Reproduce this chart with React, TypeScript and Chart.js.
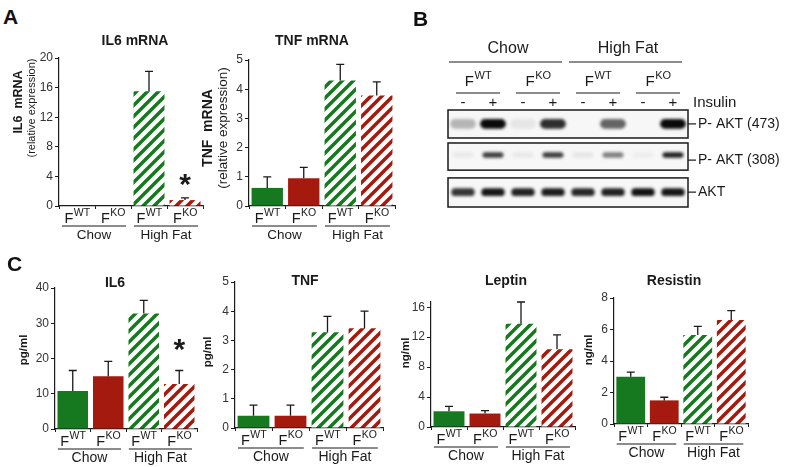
import React, { useEffect, useRef } from 'react';
import { Chart, registerables } from 'chart.js';
Chart.register(...registerables);

const FONT = '"Liberation Sans", Arial, Helvetica, sans-serif';
const GREEN = '#17791f';
const RED = '#a51a0e';
const INK = '#1a1a1a';

// ---------- data ----------
const categories = ['Chow F-WT', 'Chow F-KO', 'High Fat F-WT', 'High Fat F-KO'];
const genotypeSup = ['WT', 'KO', 'WT', 'KO'];
const dietGroups = ['Chow', 'High Fat'];

const il6mRNA = [0, 0, 15.5, 0.8];
const il6mRNAErr = [0, 0, 2.7, 0.3];
const tnfmRNA = [0.62, 0.95, 4.3, 3.78];
const tnfmRNAErr = [0.38, 0.37, 0.55, 0.47];
const il6Serum = [10.8, 15.0, 32.8, 12.8];
const il6SerumErr = [5.8, 4.2, 3.7, 3.8];
const tnfSerum = [0.42, 0.42, 3.28, 3.42];
const tnfSerumErr = [0.36, 0.36, 0.54, 0.58];
const leptinSerum = [2.1, 1.8, 13.8, 10.4];
const leptinSerumErr = [0.65, 0.4, 2.9, 1.9];
const resistinSerum = [3.0, 1.5, 5.65, 6.6];
const resistinSerumErr = [0.3, 0.2, 0.55, 0.6];

const blotInsulin = ['-', '+', '-', '+', '-', '+', '-', '+'];
const blotGenotypes = ['WT', 'KO', 'WT', 'KO'];
const blotDiets = ['Chow', 'High Fat'];
const blotRows = ['P- AKT (473)', 'P- AKT (308)', 'AKT'];
const pAkt473 = [0.28, 1.0, 0.07, 0.85, 0.0, 0.62, 0.0, 1.0];
const pAkt308 = [0.06, 0.78, 0.06, 0.78, 0.07, 0.5, 0.04, 0.9];
const aktTotal = [0.82, 0.95, 0.9, 0.92, 0.88, 0.9, 0.97, 0.95];

// ---------- layout ----------
type Spec = {
  title: string; titleX: number; titleY: number;
  yLabel: string[]; yLabelX: number[]; yLabelY: number[]; yLabelFont: string[];
  values: number[]; errors: number[]; max: number; step: number;
  star: number; starLift: number; groupFont: number;
  canvas: [number, number, number, number];
  plot: [number, number, number, number];
};

const specs: Spec[] = [
  {
    title: 'IL6 mRNA', titleX: 135, titleY: 45,
    yLabel: ['IL6  mRNA', '(relative expression)'], yLabelX: [19, 32], yLabelY: [102, 108],
    yLabelFont: ['bold 12.5px', '11px'],
    values: il6mRNA, errors: il6mRNAErr, max: 20, step: 4, star: 3, starLift: 21, groupFont: 13.5,
    canvas: [0, 30, 215, 215], plot: [59, 203, 58, 206],
  },
  {
    title: 'TNF mRNA', titleX: 312, titleY: 45,
    yLabel: ['TNF  mRNA', '(relative expression)'], yLabelX: [208, 223], yLabelY: [128, 128],
    yLabelFont: ['bold 14px', '13.5px'],
    values: tnfmRNA, errors: tnfmRNAErr, max: 5, step: 1, star: -1, starLift: 0, groupFont: 13.5,
    canvas: [195, 30, 215, 215], plot: [249, 395, 60, 206],
  },
  {
    title: 'IL6', titleX: 115, titleY: 287,
    yLabel: ['pg/ml'], yLabelX: [24], yLabelY: [350], yLabelFont: ['bold 11.5px'],
    values: il6Serum, errors: il6SerumErr, max: 40, step: 10, star: 3, starLift: 29, groupFont: 14,
    canvas: [0, 262, 205, 205], plot: [55, 197, 288, 429],
  },
  {
    title: 'TNF', titleX: 305, titleY: 285,
    yLabel: ['pg/ml'], yLabelX: [208], yLabelY: [352], yLabelFont: ['bold 11.5px'],
    values: tnfSerum, errors: tnfSerumErr, max: 5, step: 1, star: -1, starLift: 0, groupFont: 14,
    canvas: [198, 262, 195, 205], plot: [235, 383, 282, 428],
  },
  {
    title: 'Leptin', titleX: 506, titleY: 285,
    yLabel: ['ng/ml'], yLabelX: [406], yLabelY: [353], yLabelFont: ['bold 11.5px'],
    values: leptinSerum, errors: leptinSerumErr, max: 16.7, step: 4, star: -1, starLift: 0, groupFont: 14,
    canvas: [395, 262, 190, 205], plot: [431, 575, 302, 427],
  },
  {
    title: 'Resistin', titleX: 674, titleY: 285,
    yLabel: ['ng/ml'], yLabelX: [589], yLabelY: [350], yLabelFont: ['bold 11.5px'],
    values: resistinSerum, errors: resistinSerumErr, max: 8, step: 2, star: -1, starLift: 0, groupFont: 14,
    canvas: [580, 262, 220, 205], plot: [614, 748, 298, 424],
  },
];

const YW = 30;

function makeHatch(color: string) {
  const s = 11;
  const c = document.createElement('canvas');
  c.width = s; c.height = s;
  const g = c.getContext('2d')!;
  g.fillStyle = '#ffffff';
  g.fillRect(0, 0, s, s);
  g.strokeStyle = color;
  g.lineWidth = 3.5;
  g.beginPath();
  for (const o of [-s, 0, s]) {
    g.moveTo(o - 1, s + 1);
    g.lineTo(o + s + 1, -1);
  }
  g.stroke();
  return g.createPattern(c, 'repeat')!;
}

function drawFLabel(ctx: CanvasRenderingContext2D, cx: number, base: number, sup: string, fSize: number, sSize: number, supRise: number) {
  ctx.font = `${fSize}px ${FONT}`;
  const wF = ctx.measureText('F').width;
  ctx.font = `${sSize}px ${FONT}`;
  const wS = ctx.measureText(sup).width;
  const x0 = cx - (wF + wS) / 2;
  ctx.textAlign = 'left';
  ctx.textBaseline = 'alphabetic';
  ctx.font = `${fSize}px ${FONT}`;
  ctx.fillText('F', x0, base);
  ctx.font = `${sSize}px ${FONT}`;
  ctx.fillText(sup, x0 + wF + 0.5, base - supRise);
}

function makeBarPlugin(spec: Spec) {
  const ox = spec.canvas[0];
  const oy = spec.canvas[1];
  return {
    id: 'barDecor',
    afterDraw(chart: any) {
      const ctx: CanvasRenderingContext2D = chart.ctx;
      const xs = chart.scales.x;
      const ys = chart.scales.y;
      const meta = chart.getDatasetMeta(0);
      const zero = ys.getPixelForValue(0);
      const cw = xs.getPixelForValue(1) - xs.getPixelForValue(0);
      ctx.save();
      ctx.fillStyle = INK;
      ctx.strokeStyle = INK;
      // error bars
      ctx.lineWidth = 1.3;
      spec.values.forEach((v, i) => {
        const e = spec.errors[i];
        if (!e) return;
        const x = meta.data[i].x;
        const y0 = ys.getPixelForValue(v);
        const y1 = ys.getPixelForValue(v + e);
        ctx.beginPath();
        ctx.moveTo(x, y0);
        ctx.lineTo(x, y1);
        ctx.moveTo(x - 4, y1);
        ctx.lineTo(x + 4, y1);
        ctx.stroke();
      });
      // star
      if (spec.star >= 0) {
        const i = spec.star;
        const x = meta.data[i].x;
        const yc = ys.getPixelForValue(spec.values[i] + spec.errors[i]) - spec.starLift;
        ctx.font = `bold 30px ${FONT}`;
        ctx.textAlign = 'center';
        ctx.textBaseline = 'alphabetic';
        ctx.fillText('*', x, yc + 0.57 * 30);
      }
      // x category labels
      categories.forEach((_, i) => {
        const cx = xs.getPixelForValue(i);
        drawFLabel(ctx, cx, zero + 17, genotypeSup[i], 14.5, 10.5, 7);
      });
      // diet groups
      ctx.lineWidth = 1.2;
      dietGroups.forEach((g, k) => {
        const a = xs.getPixelForValue(2 * k) - 0.42 * cw;
        const b = xs.getPixelForValue(2 * k + 1) + 0.36 * cw;
        ctx.beginPath();
        ctx.moveTo(a, zero + 20);
        ctx.lineTo(b, zero + 20);
        ctx.stroke();
        ctx.font = `${spec.groupFont}px ${FONT}`;
        ctx.textAlign = 'center';
        ctx.textBaseline = 'alphabetic';
        ctx.fillText(g, (a + b) / 2, zero + 33);
      });
      // title
      ctx.font = `bold 14px ${FONT}`;
      ctx.textAlign = 'center';
      ctx.textBaseline = 'alphabetic';
      ctx.fillText(spec.title, spec.titleX - ox, spec.titleY - oy);
      // y labels
      spec.yLabel.forEach((t, k) => {
        ctx.save();
        ctx.translate(spec.yLabelX[k] - ox, spec.yLabelY[k] - oy);
        ctx.rotate(-Math.PI / 2);
        ctx.font = `${spec.yLabelFont[k]} ${FONT}`;
        ctx.textAlign = 'center';
        ctx.textBaseline = 'middle';
        ctx.fillText(t, 0, 0);
        ctx.restore();
      });
      ctx.restore();
    },
  };
}

function BarPanel({ spec }: { spec: Spec }) {
  const ref = useRef<HTMLCanvasElement>(null);
  useEffect(() => {
    const canvas = ref.current!;
    const [cx, cy, cw, ch] = spec.canvas;
    const [l, r, t, b] = spec.plot;
    const pad = { left: l - cx - YW, right: cx + cw - r, top: t - cy, bottom: cy + ch - b };
    const fills = [GREEN, RED, makeHatch(GREEN), makeHatch(RED)];
    const chart = new Chart(canvas, {
      type: 'bar',
      data: {
        labels: categories,
        datasets: [{
          data: spec.values,
          backgroundColor: fills as any,
          borderWidth: 0,
          barPercentage: 0.86,
          categoryPercentage: 1,
        }],
      },
      options: {
        responsive: false,
        animation: false,
        devicePixelRatio: 1,
        layout: { padding: pad },
        events: [],
        plugins: { legend: { display: false }, tooltip: { enabled: false }, title: { display: false } },
        scales: {
          x: {
            type: 'category',
            offset: true,
            grid: { display: true, drawOnChartArea: false, drawTicks: true, tickLength: 3, color: INK, offset: true },
            border: { display: true, color: INK, width: 1.2 },
            ticks: { display: false },
            afterFit: (s: any) => { s.height = 0; },
          },
          y: {
            min: 0,
            max: spec.max,
            ticks: {
              stepSize: spec.step,
              includeBounds: false,
              padding: 2,
              color: '#333',
              font: { family: FONT, size: 12 },
            },
            grid: { display: true, drawOnChartArea: false, drawTicks: true, tickLength: 4, color: INK },
            border: { display: true, color: INK, width: 1.2 },
            afterFit: (s: any) => { s.width = YW; },
          },
        },
      },
      plugins: [makeBarPlugin(spec)],
    } as any);
    return () => chart.destroy();
  }, []);
  const [cx, cy, cw, ch] = spec.canvas;
  return (
    <canvas ref={ref} width={cw} height={ch}
      style={{ position: 'absolute', left: cx, top: cy, width: cw, height: ch }} />
  );
}

// ---------- blot ----------
const BLOT_CANVAS: [number, number, number, number] = [440, 0, 360, 215];
const BLOT_AREA = { l: 448, r: 688, t: 110, b: 207 };
const ROW_CENTER = [0.43, 1.39, 2.54];
const ROW_HALF = [0.15, 0.085, 0.12];
const ROW_WIDTH = [0.86, 0.7, 0.78];
const ROW_BOX: [number, number][] = [[0, 0.866], [1.02, 1.86], [2.1, 3.0]];
const ROW_LABEL_SHIFT = [0, 0.16, 0];

function BlotPanel() {
  const ref = useRef<HTMLCanvasElement>(null);
  useEffect(() => {
    const canvas = ref.current!;
    const [cx, cy, cw, ch] = BLOT_CANVAS;
    const pad = { left: BLOT_AREA.l - cx, right: cx + cw - BLOT_AREA.r, top: BLOT_AREA.t - cy, bottom: cy + ch - BLOT_AREA.b };
    const rows = [pAkt473, pAkt308, aktTotal];
    const laneLabels = blotInsulin.map((s, i) => `${i}${s}`);
    const datasets = rows.map((vals, k) => ({
      label: blotRows[k],
      data: vals.map(() => [ROW_CENTER[k] - ROW_HALF[k], ROW_CENTER[k] + ROW_HALF[k]]),
      backgroundColor: vals.map((a) => `rgba(10,10,10,${a})`),
      borderWidth: 0,
      borderRadius: 5,
      borderSkipped: false,
      barPercentage: ROW_WIDTH[k],
      categoryPercentage: 1,
      grouped: false,
    }));
    const plugin = {
      id: 'blotDecor',
      beforeDatasetsDraw(chart: any) {
        const ctx: CanvasRenderingContext2D = chart.ctx;
        const ys = chart.scales.y;
        const ca = chart.chartArea;
        ctx.save();
        ctx.fillStyle = '#f7f7f7';
        ROW_BOX.forEach(([a, b]) => {
          const y1 = ys.getPixelForValue(a);
          const y2 = ys.getPixelForValue(b);
          ctx.fillRect(ca.left, y1, ca.right - ca.left, y2 - y1);
        });
        ctx.restore();
        ctx.save();
        ctx.filter = 'blur(1.6px)';
      },
      afterDatasetsDraw(chart: any) {
        chart.ctx.restore();
      },
      afterDraw(chart: any) {
        const ctx: CanvasRenderingContext2D = chart.ctx;
        const xs = chart.scales.x;
        const ys = chart.scales.y;
        const ca = chart.chartArea;
        const lane = (i: number) => xs.getPixelForValue(i);
        ctx.save();
        ctx.fillStyle = INK;
        ctx.strokeStyle = INK;
        // boxes
        ctx.lineWidth = 1.5;
        ROW_BOX.forEach(([a, b]) => {
          const y1 = ys.getPixelForValue(a);
          const y2 = ys.getPixelForValue(b);
          ctx.strokeRect(ca.left, y1, ca.right - ca.left, y2 - y1);
        });
        // diet labels
        ctx.textAlign = 'center';
        ctx.textBaseline = 'alphabetic';
        ctx.lineWidth = 1.2;
        blotDiets.forEach((d, k) => {
          const a = lane(4 * k) - 14;
          const b = lane(4 * k + 3) + 9;
          ctx.font = `16px ${FONT}`;
          ctx.fillText(d, (lane(4 * k) + lane(4 * k + 3)) / 2, ca.top - 57);
          ctx.beginPath();
          ctx.moveTo(a, ca.top - 48);
          ctx.lineTo(b, ca.top - 48);
          ctx.stroke();
        });
        // genotype labels
        blotGenotypes.forEach((g, k) => {
          const c = (lane(2 * k) + lane(2 * k + 1)) / 2;
          drawFLabel(ctx, c, ca.top - 24, g, 15, 11, 7);
          ctx.beginPath();
          ctx.moveTo(c - 22, ca.top - 17);
          ctx.lineTo(c + 22, ca.top - 17);
          ctx.stroke();
        });
        // insulin signs
        ctx.textAlign = 'center';
        ctx.textBaseline = 'alphabetic';
        ctx.font = `15px ${FONT}`;
        blotInsulin.forEach((s, i) => {
          ctx.fillText(s, lane(i), ca.top - 3);
        });
        ctx.textAlign = 'left';
        ctx.fillText('Insulin', ca.right + 5, ca.top - 3);
        // row labels
        ctx.font = `14px ${FONT}`;
        ctx.textBaseline = 'middle';
        blotRows.forEach((t, k) => {
          const y = ys.getPixelForValue(ROW_CENTER[k] + ROW_LABEL_SHIFT[k]);
          ctx.beginPath();
          ctx.moveTo(ca.right, y);
          ctx.lineTo(ca.right + 8, y);
          ctx.stroke();
          ctx.fillText(t, ca.right + 10, y);
        });
        ctx.restore();
      },
    };
    const chart = new Chart(canvas, {
      type: 'bar',
      data: { labels: laneLabels, datasets },
      options: {
        responsive: false,
        animation: false,
        devicePixelRatio: 1,
        events: [],
        layout: { padding: pad },
        plugins: { legend: { display: false }, tooltip: { enabled: false } },
        scales: {
          x: { type: 'category', display: false, offset: true },
          y: { display: false, min: 0, max: 3, reverse: true },
        },
      },
      plugins: [plugin],
    } as any);
    return () => chart.destroy();
  }, []);
  const [cx, cy, cw, ch] = BLOT_CANVAS;
  return (
    <canvas ref={ref} width={cw} height={ch}
      style={{ position: 'absolute', left: cx, top: cy, width: cw, height: ch }} />
  );
}

const letterStyle = (left: number, top: number): React.CSSProperties => ({
  position: 'absolute', left, top, fontFamily: FONT, fontWeight: 'bold', fontSize: 21, lineHeight: '21px', color: '#111',
});

export default function App() {
  return (
    <div style={{ position: 'absolute', left: 0, top: 0, width: 800, height: 467, background: '#fff', overflow: 'hidden' }}>
      {specs.map((s, i) => <BarPanel key={i} spec={s} />)}
      <BlotPanel />
      <div style={letterStyle(3, 6)}>A</div>
      <div style={letterStyle(413, 8)}>B</div>
      <div style={letterStyle(7, 253)}>C</div>
    </div>
  );
}
